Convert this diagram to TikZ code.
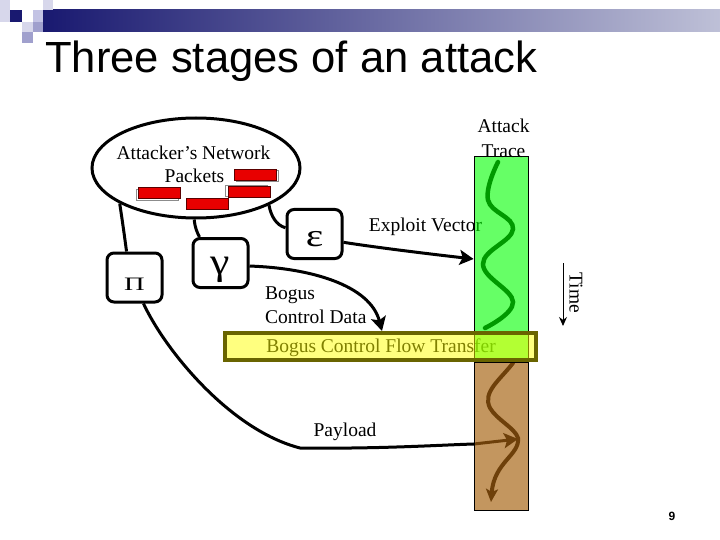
\documentclass[tikz,border=0pt]{standalone}
\usepackage{fontspec}
\usepackage{graphicx}
\setmainfont{Liberation Serif}
\newfontfamily\arialf{Liberation Sans}
\usetikzlibrary{shapes.geometric,arrows.meta}
\pgfdeclarelayer{front}
\pgfsetlayers{main,front}
\definecolor{navy}{RGB}{25,25,112}
\definecolor{barlight}{RGB}{190,192,215}
\definecolor{sqA}{RGB}{215,215,235}
\definecolor{sqB}{RGB}{195,195,228}
\definecolor{sqC}{RGB}{160,160,205}
\definecolor{pktred}{RGB}{232,0,0}
\definecolor{pktedge}{RGB}{90,0,0}
\definecolor{trgreen}{RGB}{0,255,0}
\definecolor{trbrown}{RGB}{165,97,15}
\definecolor{flowyellow}{RGB}{255,255,0}
\definecolor{flowedge}{RGB}{105,100,0}
\begin{document}
\begin{tikzpicture}[x=1pt,y=-1pt,
  lbl/.style={font=\fontsize{19.5}{22}\selectfont, inner sep=0pt},
  gbox/.style={draw, line width=3pt, rounded corners=7pt, minimum width=55pt, minimum height=49pt, inner sep=0pt, text depth=0pt},
  packet/.style={draw=pktedge, line width=0.8pt, fill=pktred, minimum width=42pt, minimum height=11pt, inner sep=0pt},
  pshadow/.style={draw=black!45, line width=0.8pt, fill=white, minimum width=42pt, minimum height=11pt, inner sep=0pt},
  conn/.style={line width=3pt},
  arr/.style={-{Stealth[length=14pt,width=15pt,inset=3pt]}},
  barbox/.style={draw, line width=0.8pt, inner sep=0pt, minimum width=54pt}
]
\path[use as bounding box] (0,0) rectangle (720,540);

% header decoration
\shade[left color=navy, right color=barlight] (43,10) rectangle (720,32);
\fill[sqA] (0,0) rectangle (10,22);
\fill[navy] (10,10) rectangle (22,22);
\fill[sqB] (33,10) rectangle (43,22);
\fill[sqA] (43,0) rectangle (53,10);
\fill[sqA] (22,22) rectangle (33,32);
\fill[sqC] (33,22) rectangle (43,32);
\fill[sqC] (22,32) rectangle (33,43);
\node[anchor=base west, inner sep=0pt, font=\arialf\fontsize{43.6}{50}\selectfont] (title) at (45,73) {Three stages of an attack};

% translucent bars (front layer)
\begin{pgfonlayer}{front}
\node[barbox, fill=trgreen, fill opacity=0.6, minimum height=206pt] (trace) at (501,259) {};
\node[barbox, fill=trbrown, fill opacity=0.667, minimum height=148pt] (paybar) at (501,436) {};
\node[draw=flowedge, line width=4pt, fill=flowyellow, fill opacity=0.5, inner sep=0pt, minimum width=311pt, minimum height=27pt] (flow) at (380.5,346.5) {};
\end{pgfonlayer}

% attacker's network
\node[ellipse, draw, line width=3pt, minimum width=208pt, minimum height=100pt, inner sep=0pt] (net) at (196,168) {};
\node[lbl, anchor=base] (netlbl1) at (193.5,160) {Attacker's Network};
\node[lbl, anchor=base] (netlbl2) at (194.5,183) {Packets};
\node[pshadow] (s1) at (157,194.5) {};
\node[packet] (p1) at (159,192.5) {};
\node[pshadow] (s2) at (257.5,175.5) {};
\node[packet] (p2) at (255.5,174.5) {};
\node[pshadow] (s3) at (246,190.5) {};
\node[packet] (p3) at (249,191.5) {};
\node[packet] (p4) at (207,204) {};

% stage boxes
\node[gbox, text height=25pt, font=\fontsize{19}{22}\selectfont] (pi) at (134.5,277.5) {\scalebox{1.5}[1]{Π}};
\node[gbox, text height=22pt, font=\fontsize{38}{40}\selectfont] (gam) at (220.5,263) {\scalebox{1.15}[1]{γ}};
\node[gbox, text height=26pt, font=\fontsize{32}{34}\selectfont] (eps) at (314.5,234) {\scalebox{1.3}[1]{ε}};

% connectors
\draw[conn] (net.205) .. controls (123,225) and (125,240) .. (pi.107);
\draw[conn] (net.268) .. controls (195,228) and (197,232) .. (gam.129);
\draw[conn] (net.333) .. controls (271,216) and (276,225) .. (eps.168);
\draw[conn, arr] (eps.344) .. controls (380,248) and (430,254) .. (trace.west |- 0,259);
\draw[conn, arr] (gam.354) .. controls (310,268) and (370,285) .. (flow.north -| 382,0);
\coordinate (paytip) at (518,439);
\draw[conn, arr] (pi.289) .. controls (165,350) and (230,430) .. (300,448)
  .. controls (380,449) and (440,445) .. (474,444) -- (paytip);

% labels
\node[lbl, anchor=base] (atk1) at (503.5,133) {Attack};
\node[lbl, anchor=base] (atk2) at (503.5,158) {Trace};
\node[lbl, anchor=base] (explbl) at (425.5,232) {Exploit Vector};
\node[lbl, anchor=base west] (bog1) at (265,299) {Bogus};
\node[lbl, anchor=base west] (bog2) at (265,323) {Control Data};
\node[lbl, anchor=base] (flowlbl) at (381,352) {Bogus Control Flow Transfer};
\node[lbl, anchor=base] (paylbl) at (345,436) {Payload};
\node[lbl, rotate=-90] (timelbl) at (576,293) {Time};

% time arrow
\coordinate (t1) at (563,263);
\coordinate (t2) at (563,326);
\draw[line width=1pt, -{Stealth[length=9pt,width=8pt]}] (t1) -- (t2);

% traces (seen through the bars)
\draw[line width=4.5pt, line cap=round] plot[smooth, tension=0.7] coordinates {(498,162) (488,200) (513,229) (483,264) (513,302) (485,328)};
\draw[line width=4pt, line cap=round, -{Stealth[length=13pt,width=12pt,inset=3pt]}] (513,363) .. controls (500,380) and (482,392) .. (490,408)
  .. controls (497,420) and (515,428) .. (518,438)
  .. controls (520,455) and (494,462) .. (491,502);

% page number
\node[inner sep=0pt, font=\arialf\bfseries\fontsize{12}{14}\selectfont] (pg) at (672,516) {9};
\end{tikzpicture}
\end{document}
